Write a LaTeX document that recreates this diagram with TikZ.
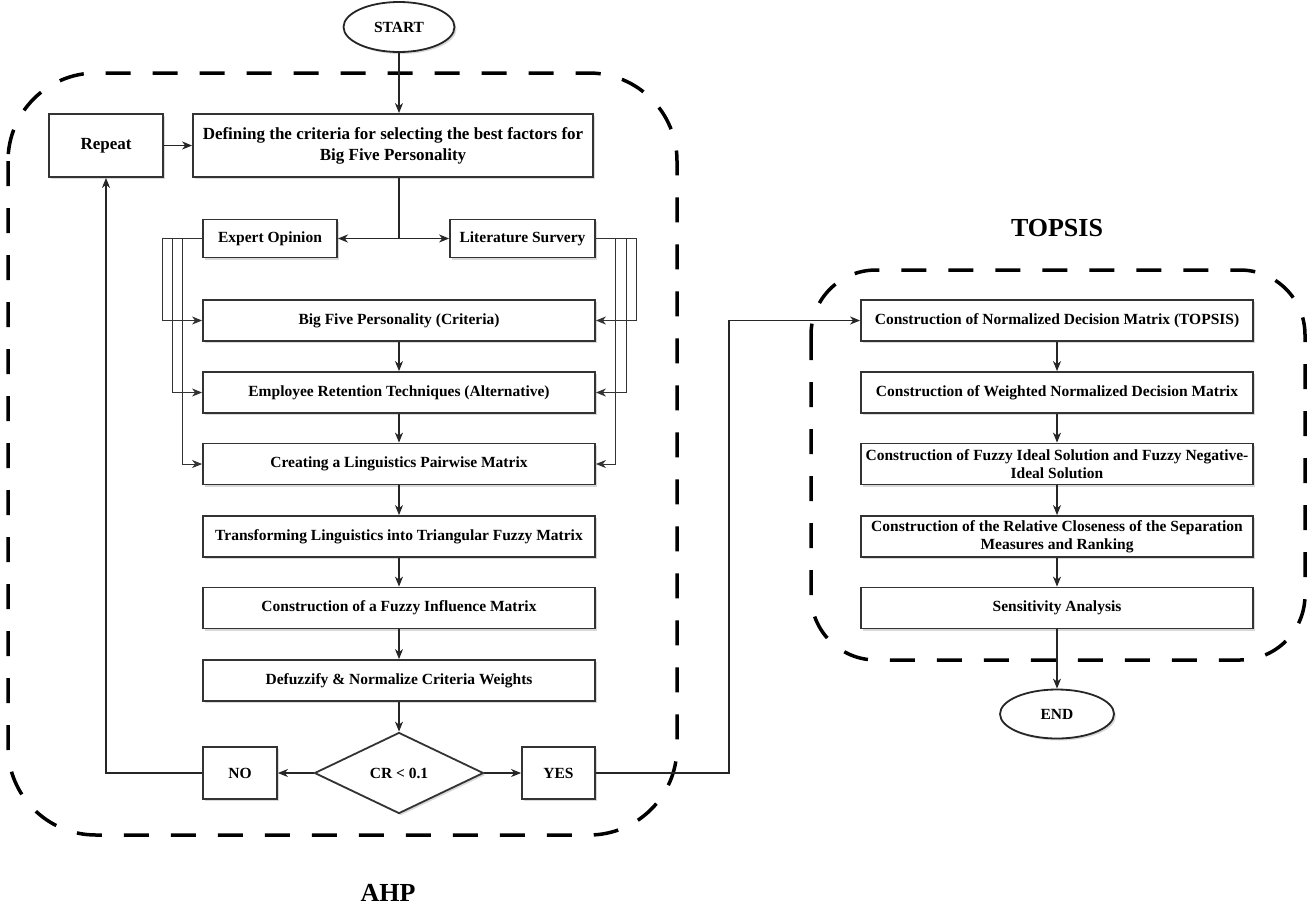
\documentclass[tikz,border=0pt]{standalone}
\usepackage{fontspec}
\setmainfont{Liberation Serif}
\usetikzlibrary{arrows.meta,shapes.geometric,shadows}
\tikzset{
  box/.style={draw=black!80, line width=1.8pt, fill=white, align=center,
    inner sep=1pt, font=\fontsize{15.5}{18.5}\selectfont\bfseries,
    drop shadow={shadow xshift=2pt, shadow yshift=-2pt, opacity=0.25, fill=black!60}},
  wbox/.style={box, minimum width=392pt, minimum height=41pt},
  oval/.style={ellipse, draw=black!85, line width=1.8pt, fill=white, inner sep=0pt,
    font=\fontsize{15.5}{18}\selectfont\bfseries,
    drop shadow={shadow xshift=2pt, shadow yshift=-2pt, opacity=0.25, fill=black!60}},
  arr/.style={draw=black!85, line width=1.2pt, -{Stealth[length=10pt,width=8pt,inset=3pt]}},
  ln/.style={draw=black!85, line width=1.2pt},
  thin/.style={draw=black!80, line width=0.9pt},
  thinarr/.style={thin, -{Stealth[length=10pt,width=8pt,inset=3pt]}},
  dashbox/.style={draw=black, line width=3.5pt, dash pattern=on 25pt off 22pt},
  biglabel/.style={font=\fontsize{26}{30}\selectfont\bfseries}
}
\begin{document}
\begin{tikzpicture}[x=1pt,y=-1pt]
\useasboundingbox (0,0) rectangle (1311,908);
% dashed frames
\draw[dashbox, rounded corners=88pt] (8,73) rectangle (677,835);
\draw[dashbox, rounded corners=65pt] (811,270) rectangle (1305,660);
% labels
\node[biglabel] (ahp) at (388,893) {AHP};
\node[biglabel] (topsis) at (1057,228) {TOPSIS};
% AHP nodes
\node[oval, minimum width=111pt, minimum height=50pt] (start) at (399,27) {START};
\node[box, minimum width=114pt, minimum height=63pt, font=\fontsize{17}{21}\selectfont\bfseries] (repeat) at (106,145.5) {Repeat};
\node[box, minimum width=400pt, minimum height=63pt, font=\fontsize{17}{21}\selectfont\bfseries] (def) at (393,145.5)
  {Defining the criteria for selecting the best factors for\\Big Five Personality};
\node[box, minimum width=134pt, minimum height=38pt] (expert) at (270,238.5) {Expert Opinion};
\node[box, minimum width=145pt, minimum height=38pt] (lit) at (522.5,238.5) {Literature Survery};
\node[wbox] (bigfive) at (399,320.5) {Big Five Personality (Criteria)};
\node[wbox] (employee) at (399,392.5) {Employee Retention Techniques (Alternative)};
\node[wbox] (creating) at (399,464) {Creating a Linguistics Pairwise Matrix};
\node[wbox] (transform) at (399,536.5) {Transforming Linguistics into Triangular Fuzzy Matrix};
\node[wbox] (fuzzy) at (399,608) {Construction of a Fuzzy Influence Matrix};
\node[wbox] (defuzz) at (399,680.5) {Defuzzify \& Normalize Criteria Weights};
\node[box, diamond, aspect=2.09, inner sep=0pt, minimum width=169pt, minimum height=81pt, drop shadow={opacity=0}] (cr) at (399,773) {CR < 0.1};
\node[box, minimum width=74pt, minimum height=52pt] (no) at (240,773) {NO};
\node[box, minimum width=73pt, minimum height=52pt] (yes) at (558.5,773) {YES};
% TOPSIS nodes
\node[wbox] (t1) at (1057,320.5) {Construction of Normalized Decision Matrix (TOPSIS)};
\node[wbox] (t2) at (1057,392.5) {Construction of Weighted Normalized Decision Matrix};
\node[wbox] (t3) at (1057,464) {Construction of Fuzzy Ideal Solution and Fuzzy Negative-\\Ideal Solution};
\node[wbox] (t4) at (1057,536.5) {Construction of the Relative Closeness of the Separation\\Measures and Ranking};
\node[wbox] (t5) at (1057,608) {Sensitivity Analysis};
\node[oval, minimum width=114pt, minimum height=49pt] (end) at (1057,714) {END};
% connectors
\coordinate (split) at (399,238.5);
\draw[arr] (start.south) -- (start.south |- def.north);
\draw[arr] (repeat.east) -- (def.west);
\draw[ln] (split |- def.south) -- (split);
\draw[arr] (split) -- (expert.east);
\draw[arr] (split) -- (lit.west);
\draw[thinarr] (expert.west) -- ++(-40,0) |- (bigfive.west);
\draw[thinarr] (expert.west) -- ++(-30,0) |- (employee.west);
\draw[thinarr] (expert.west) -- ++(-20,0) |- (creating.west);
\draw[thinarr] (lit.east) -- ++(41,0) |- (bigfive.east);
\draw[thinarr] (lit.east) -- ++(31,0) |- (employee.east);
\draw[thinarr] (lit.east) -- ++(20,0) |- (creating.east);
\draw[arr] (bigfive) -- (employee);
\draw[arr] (employee) -- (creating);
\draw[arr] (creating) -- (transform);
\draw[arr] (transform) -- (fuzzy);
\draw[arr] (fuzzy) -- (defuzz);
\draw[arr] (defuzz) -- (cr);
\draw[arr] (cr.west) -- (no.east);
\draw[arr] (cr.east) -- (yes.west);
\draw[arr] (no.west) -- (repeat.south |- no.west) -- (repeat.south);
\draw[arr, line width=1.6pt] (yes.east) -- ++(133,0) |- (t1.west);
\draw[arr] (t1) -- (t2);
\draw[arr] (t2) -- (t3);
\draw[arr] (t3) -- (t4);
\draw[arr] (t4) -- (t5);
\draw[arr] (t5) -- (end);
\end{tikzpicture}
\end{document}
